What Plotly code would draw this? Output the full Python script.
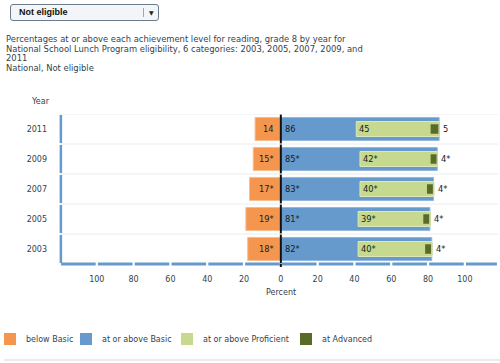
import plotly.graph_objects as go

# ---- data ----
years = ["2003", "2005", "2007", "2009", "2011"]
below_basic = [18, 19, 17, 15, 14]
at_or_above_basic = [82, 81, 83, 85, 86]
at_or_above_proficient = [40, 39, 40, 42, 45]
at_advanced = [4, 4, 4, 4, 5]
sig_below = [True, True, True, True, False]
sig_basic = [True, True, True, True, False]
sig_prof = [True, True, True, True, False]
sig_adv = [True, True, True, True, False]
x_ticks = [-100, -80, -60, -40, -20, 0, 20, 40, 60, 80, 100]
x_tick_text = ["100", "80", "60", "40", "20", "0", "20", "40", "60", "80", "100"]
legend_names = ["below Basic", "at or above Basic", "at or above Proficient", "at Advanced"]
title_lines = [
    "Percentages at or above each achievement level for reading, grade 8 by year for",
    "National School Lunch Program eligibility, 6 categories: 2003, 2005, 2007, 2009, and",
    "2011",
    "National, Not eligible",
]

C_ORANGE = "#F5964F"
C_BLUE = "#6699CC"
C_LGREEN = "#C6D98F"
C_DGREEN = "#5A6B28"
TXT = "#34424c"
FONT = "DejaVu Sans"

W, H = 500, 363
L, R, T, B = 60, 2, 114, 99
PW, PH = W - L - R, H - T - B


def px(x):
    return (x - L) / PW


def py(y):
    return (H - B - y) / PH


ypos = list(range(len(years)))

fig = go.Figure()
fig.add_trace(go.Bar(y=ypos, x=[-v for v in below_basic], orientation="h", width=0.77,
                     marker=dict(color=C_ORANGE, line=dict(color="#F9BC8F", width=1)),
                     hoverinfo="skip", showlegend=False))
fig.add_trace(go.Bar(y=ypos, x=at_or_above_basic, orientation="h", width=0.77,
                     marker=dict(color=C_BLUE, line=dict(color="#93B7DE", width=1)),
                     hoverinfo="skip", showlegend=False))
fig.add_trace(go.Bar(y=ypos, x=at_or_above_proficient,
                     base=[b - p for b, p in zip(at_or_above_basic, at_or_above_proficient)],
                     orientation="h", width=0.5,
                     marker=dict(color=C_LGREEN, line=dict(color="#DCE8BC", width=1)),
                     hoverinfo="skip", showlegend=False))
fig.add_trace(go.Bar(y=ypos, x=at_advanced,
                     base=[b - a for b, a in zip(at_or_above_basic, at_advanced)],
                     orientation="h", width=0.37,
                     marker=dict(color=C_DGREEN, line=dict(color=C_LGREEN, width=1.5)),
                     hoverinfo="skip", showlegend=False))

ann = []
shapes = []
lab_font = dict(family=FONT, size=8.3, color="#1a1a1a")


def lab(v, s):
    return f"{v}*" if s else f"{v}"


for i in ypos:
    ann.append(dict(x=0, y=i, xref="x", yref="y", text=lab(below_basic[i], sig_below[i]),
                    xanchor="right", xshift=-5, showarrow=False, font=lab_font))
    ann.append(dict(x=0, y=i, xref="x", yref="y", text=lab(at_or_above_basic[i], sig_basic[i]),
                    xanchor="left", xshift=2, showarrow=False, font=lab_font))
    ann.append(dict(x=at_or_above_basic[i] - at_or_above_proficient[i], y=i, xref="x", yref="y",
                    text=lab(at_or_above_proficient[i], sig_prof[i]),
                    xanchor="left", xshift=1, showarrow=False, font=lab_font))
    ann.append(dict(x=at_or_above_basic[i], y=i, xref="x", yref="y",
                    text=lab(at_advanced[i], sig_adv[i]),
                    xanchor="left", xshift=2, showarrow=False, font=lab_font))

# row grid lines
for k in range(len(years)):
    yb = k + 0.5
    shapes.append(dict(type="line", xref="paper", yref="y", x0=px(62), x1=1, y0=yb, y1=yb,
                       line=dict(color="#e9ecee", width=1), layer="below"))
# left axis segments and zero line segments
for k in range(len(years)):
    shapes.append(dict(type="line", xref="x domain", yref="y", x0=0.002, x1=0.002,
                       y0=k - 0.47, y1=k + 0.47, line=dict(color=C_BLUE, width=2.5)))
    shapes.append(dict(type="line", xref="x", yref="y", x0=0, x1=0,
                       y0=k - 0.48, y1=k + 0.48, line=dict(color="#111111", width=2)))
# bottom axis segments
edges = [-120] + x_ticks + [118]
for a, b in zip(edges[:-1], edges[1:]):
    shapes.append(dict(type="line", xref="x", yref="paper", x0=a + 0.6, x1=b - 0.6,
                       y0=0, y1=0, line=dict(color=C_BLUE, width=3)))
shapes.append(dict(type="line", xref="x", yref="paper", x0=0, x1=0, y0=-0.02, y1=0.0,
                   line=dict(color="#111111", width=2)))

# title lines
for j, t in enumerate(title_lines):
    ann.append(dict(x=px(4), y=py(39 + j * 9.6), xref="paper", yref="paper", text=t,
                    xanchor="left", yanchor="middle", showarrow=False,
                    font=dict(family=FONT, size=8.4, color=TXT)))
ann.append(dict(x=px(52), y=py(102), xref="paper", yref="paper", text="Year",
                xanchor="right", yanchor="middle", showarrow=False,
                font=dict(family=FONT, size=8, color=TXT)))
ann.append(dict(x=0, y=py(292), xref="x", yref="paper", text="Percent",
                xanchor="center", yanchor="middle", showarrow=False,
                font=dict(family=FONT, size=8, color=TXT)))

# dropdown
shapes.append(dict(type="path", xref="paper", yref="paper",
                   path=f"M {px(13)},{py(4.5)} L {px(156)},{py(4.5)} Q {px(158.5)},{py(4.5)} {px(158.5)},{py(7)} "
                        f"L {px(158.5)},{py(18)} Q {px(158.5)},{py(20.5)} {px(156)},{py(20.5)} "
                        f"L {px(13)},{py(20.5)} Q {px(10.5)},{py(20.5)} {px(10.5)},{py(18)} "
                        f"L {px(10.5)},{py(7)} Q {px(10.5)},{py(4.5)} {px(13)},{py(4.5)} Z",
                   fillcolor="#f3f5f8", line=dict(color="#6b7b8c", width=1)))
shapes.append(dict(type="line", xref="paper", yref="paper", x0=px(143.5), x1=px(143.5),
                   y0=py(8), y1=py(17), line=dict(color="#9aa6b2", width=1)))
ann.append(dict(x=px(17), y=py(12.5), xref="paper", yref="paper", text="<b>Not eligible</b>",
                xanchor="left", yanchor="middle", showarrow=False,
                font=dict(family="Liberation Sans", size=9, color="#111111")))
ann.append(dict(x=px(151), y=py(12.5), xref="paper", yref="paper", text="▼",
                xanchor="center", yanchor="middle", showarrow=False,
                font=dict(family=FONT, size=6, color="#222222")))

# legend
leg_colors = [C_ORANGE, C_BLUE, C_LGREEN, C_DGREEN]
leg_x = [4, 80, 181, 300]
for c, x0, name in zip(leg_colors, leg_x, legend_names):
    shapes.append(dict(type="rect", xref="paper", yref="paper", x0=px(x0), x1=px(x0 + 12),
                       y0=py(333), y1=py(345), fillcolor=c, line=dict(width=0)))
    ann.append(dict(x=px(x0 + 20), y=py(339), xref="paper", yref="paper", text=name,
                    xanchor="left", yanchor="middle", showarrow=False,
                    font=dict(family=FONT, size=8, color=TXT)))
shapes.append(dict(type="line", xref="paper", yref="paper", x0=px(4), x1=px(500),
                   y0=py(360), y1=py(360), line=dict(color="#d3d9dc", width=1)))

fig.update_layout(
    width=W, height=H,
    margin=dict(l=L, r=R, t=T, b=B, pad=0),
    paper_bgcolor="white", plot_bgcolor="white",
    barmode="overlay",
    showlegend=False,
    xaxis=dict(range=[-120, 118], tickmode="array", tickvals=x_ticks, ticktext=x_tick_text,
               showgrid=False, zeroline=False, showline=False, ticks="", ticklabelstandoff=9,
               tickfont=dict(family=FONT, size=8, color=TXT), fixedrange=True),
    yaxis=dict(range=[-0.5, 4.5], tickmode="array", tickvals=ypos, ticktext=years,
               showgrid=False, zeroline=False, showline=False, ticks="", ticklabelstandoff=12,
               tickfont=dict(family=FONT, size=8, color=TXT), fixedrange=True),
    shapes=shapes,
    annotations=ann,
)

fig.write_html("out.html", config={"displayModeBar": False},
               post_script="document.body.style.margin='0';document.body.style.overflow='hidden';")
